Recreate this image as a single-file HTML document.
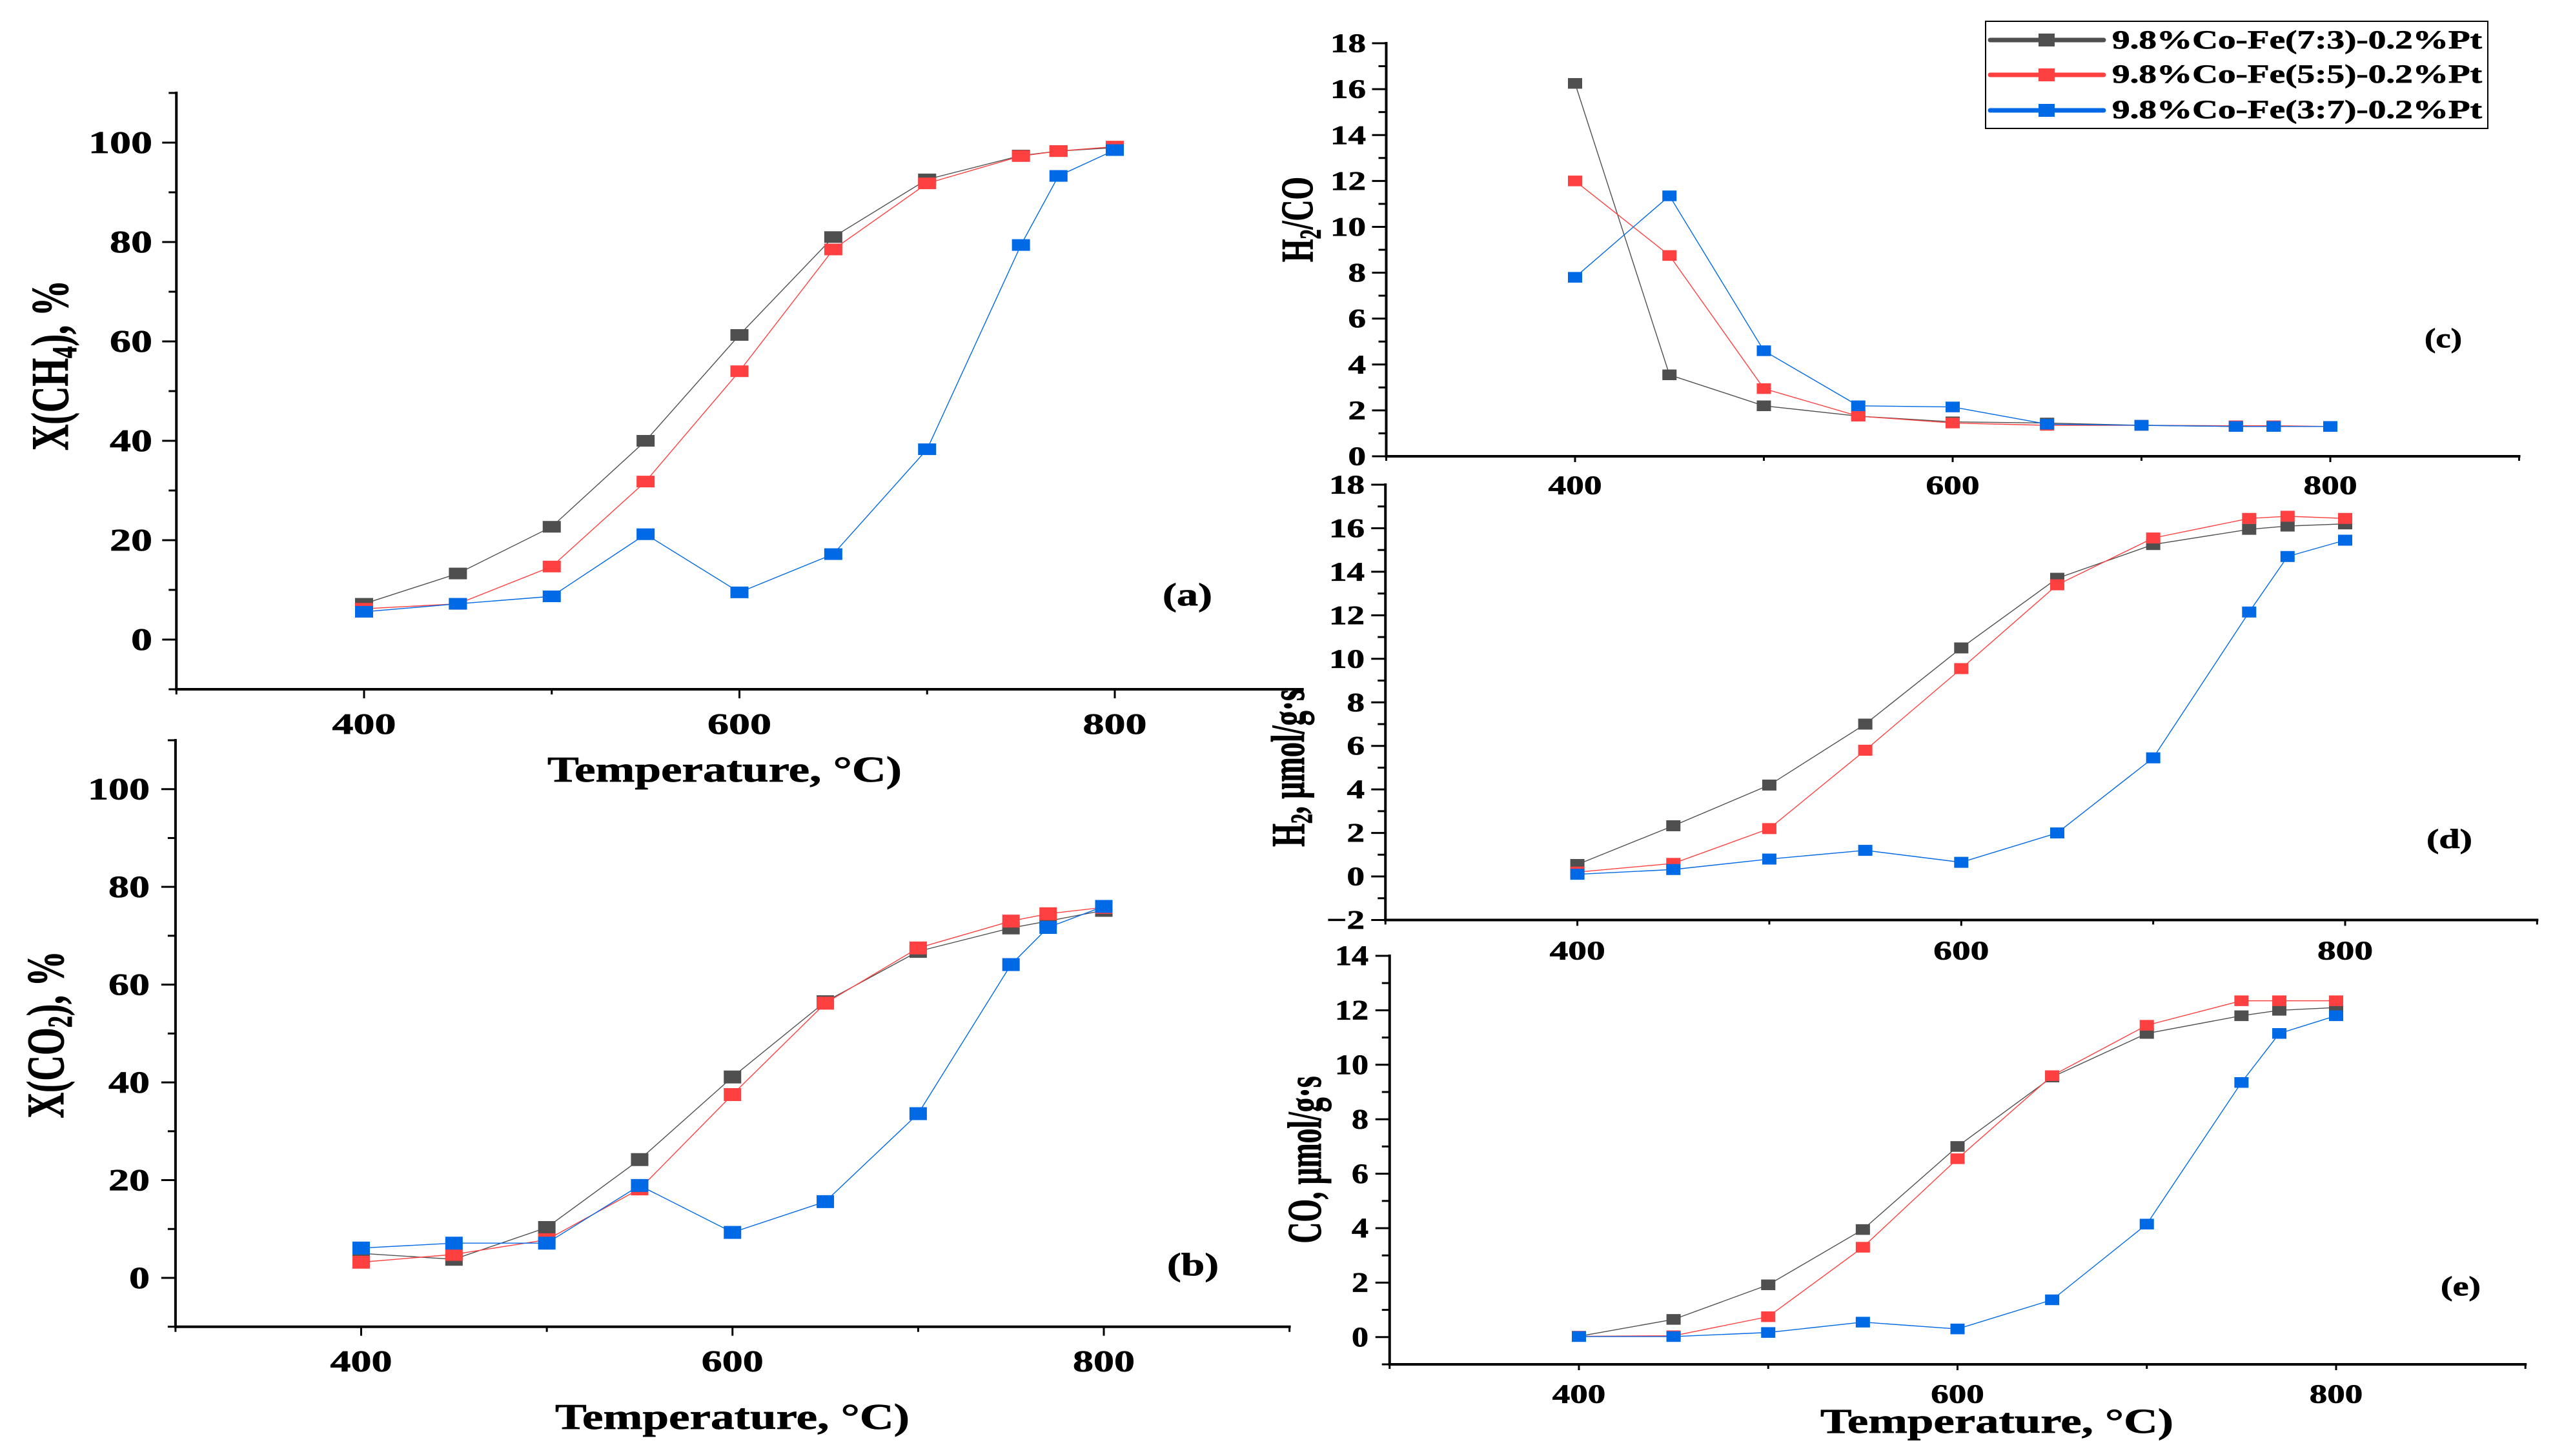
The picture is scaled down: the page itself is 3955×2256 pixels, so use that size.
<!DOCTYPE html>
<html lang="en">
<head>
<meta charset="utf-8">
<title>Catalyst performance versus temperature</title>
<style>
html,body{margin:0;padding:0;background:#fff;width:3955px;height:2256px;overflow:hidden}
svg{display:block}
text{font-family:"Liberation Serif",serif;font-weight:bold;fill:#000;stroke:#000;stroke-width:0.7}
</style>
</head>
<body>
<svg id="figure" xmlns="http://www.w3.org/2000/svg" width="3955" height="2256" viewBox="0 0 3955 2256">
  <rect x="0" y="0" width="3955" height="2256" fill="#fff"/>
  <g id="plots"></g>

  <text transform="translate(105 566) scale(1.45 1) rotate(-90)" x="0" y="0" font-size="56" text-anchor="middle" textLength="264" lengthAdjust="spacingAndGlyphs">X(CH<tspan font-size="37" dy="9">4</tspan><tspan dy="-9">), %</tspan></text>
  <text transform="translate(98 1603) scale(1.45 1) rotate(-90)" x="0" y="0" font-size="56" text-anchor="middle" textLength="259" lengthAdjust="spacingAndGlyphs">X(CO<tspan font-size="37" dy="9">2</tspan><tspan dy="-9">), %</tspan></text>
  <text transform="translate(2033 340) scale(1.55 1) rotate(-90)" x="0" y="0" font-size="45" text-anchor="middle" textLength="132" lengthAdjust="spacingAndGlyphs">H<tspan font-size="30" dy="8">2</tspan><tspan dy="-8">/CO</tspan></text>
  <text transform="translate(2020 1190) scale(1.55 1) rotate(-90)" x="0" y="0" font-size="47" text-anchor="middle" textLength="244" lengthAdjust="spacingAndGlyphs">H<tspan font-size="31" dy="8">2</tspan><tspan dy="-8">, μmol/g·s</tspan></text>
  <text transform="translate(2046 1797) scale(1.55 1) rotate(-90)" x="0" y="0" font-size="48" text-anchor="middle" textLength="259" lengthAdjust="spacingAndGlyphs">CO, μmol/g·s</text>

  <text x="848" y="1211" font-size="56" textLength="549" lengthAdjust="spacingAndGlyphs">Temperature, °C)</text>
  <text x="860" y="2214" font-size="56" textLength="549" lengthAdjust="spacingAndGlyphs">Temperature, °C)</text>
  <text x="2820" y="2220" font-size="54" textLength="547" lengthAdjust="spacingAndGlyphs">Temperature, °C)</text>

  <text x="1801" y="938" font-size="50" textLength="77" lengthAdjust="spacingAndGlyphs">(a)</text>
  <text x="1808" y="1976" font-size="50" textLength="80" lengthAdjust="spacingAndGlyphs">(b)</text>
  <text x="3756" y="538" font-size="42" textLength="58" lengthAdjust="spacingAndGlyphs">(c)</text>
  <text x="3759" y="1314" font-size="42" textLength="71" lengthAdjust="spacingAndGlyphs">(d)</text>
  <text x="3781" y="2007" font-size="42" textLength="62" lengthAdjust="spacingAndGlyphs">(e)</text>

  <g>
    <rect x="3076" y="33" width="778" height="166" fill="#fff" stroke="#000" stroke-width="2"/>
    <g>
      <line x1="3083" y1="62" x2="3259" y2="62" stroke="#4f4f4f" stroke-width="7" stroke-linecap="round"/>
      <rect x="3158" y="52" width="25" height="20" fill="#4f4f4f"/>
      <text x="3272" y="75" font-size="40" textLength="573" lengthAdjust="spacingAndGlyphs">9.8%Co-Fe(7:3)-0.2%Pt</text>
    </g>
    <g>
      <line x1="3083" y1="116" x2="3259" y2="116" stroke="#ff4040" stroke-width="7" stroke-linecap="round"/>
      <rect x="3158" y="106" width="25" height="20" fill="#ff4040"/>
      <text x="3272" y="128" font-size="40" textLength="573" lengthAdjust="spacingAndGlyphs">9.8%Co-Fe(5:5)-0.2%Pt</text>
    </g>
    <g>
      <line x1="3083" y1="171" x2="3259" y2="171" stroke="#0069e6" stroke-width="7" stroke-linecap="round"/>
      <rect x="3158" y="161" width="25" height="20" fill="#0069e6"/>
      <text x="3272" y="183" font-size="40" textLength="573" lengthAdjust="spacingAndGlyphs">9.8%Co-Fe(3:7)-0.2%Pt</text>
    </g>
  </g>
</svg>
<script>
// ---- Data ----
const temperatures = [400, 450, 500, 550, 600, 650, 700, 750, 770, 800];
const xTickValues = [300, 400, 500, 600, 700, 800, 900];
const xTickLabels = [400, 600, 800];

const ch4Series73 = [7.2, 13.3, 22.7, 40, 61.3, 81, 92.6, 97.4, 98.3, 99];
const ch4Series55 = [6.2, 7.2, 14.7, 31.8, 54, 78.5, 91.8, 97.3, 98.3, 99.2];
const ch4Series37 = [5.6, 7.2, 8.7, 21.2, 9.5, 17.2, 38.3, 79.4, 93.3, 98.5];
const ch4YLabels = [0, 20, 40, 60, 80, 100];

const co2Series73 = [5, 3.8, 10.3, 24.2, 41.1, 56.5, 66.8, 71.6, 73, 75.2];
const co2Series55 = [3.2, 4.8, 7.8, 18.2, 37.5, 56.2, 67.5, 73, 74.5, 75.8];
const co2Series37 = [6.1, 7.1, 7.1, 18.9, 9.3, 15.6, 33.6, 64.1, 71.7, 76];
const co2YLabels = [0, 20, 40, 60, 80, 100];

const ratioSeries73 = [16.25, 3.55, 2.2, 1.75, 1.5, 1.45, 1.35, 1.3, 1.3, 1.3];
const ratioSeries55 = [12, 8.75, 2.95, 1.75, 1.45, 1.35, 1.35, 1.33, 1.33, 1.3];
const ratioSeries37 = [7.8, 11.35, 4.6, 2.2, 2.15, 1.4, 1.35, 1.3, 1.3, 1.3];
const ratioYLabels = [0, 2, 4, 6, 8, 10, 12, 14, 16, 18];

const h2Series73 = [0.55, 2.33, 4.2, 7, 10.5, 13.7, 15.25, 15.95, 16.1, 16.2];
const h2Series55 = [0.2, 0.6, 2.2, 5.8, 9.55, 13.4, 15.55, 16.45, 16.55, 16.45];
const h2Series37 = [0.1, 0.32, 0.8, 1.2, 0.65, 2, 5.45, 12.15, 14.7, 15.45];
const h2YLabels = [-2, 0, 2, 4, 6, 8, 10, 12, 14, 16, 18];

const coSeries73 = [0.03, 0.65, 1.92, 3.95, 7, 9.55, 11.15, 11.8, 12, 12.1];
const coSeries55 = [0.03, 0.05, 0.75, 3.3, 6.55, 9.6, 11.45, 12.35, 12.35, 12.35];
const coSeries37 = [0.02, 0.02, 0.17, 0.55, 0.3, 1.37, 4.15, 9.35, 11.15, 11.8];
const coYLabels = [0, 2, 4, 6, 8, 10, 12, 14];

// ---- Layout ----
const NS = 'http://www.w3.org/2000/svg';
const root = document.getElementById('plots');
const seriesColors = ['#4f4f4f', '#ff4040', '#0069e6'];
const seriesNames = ['co-fe-7-3', 'co-fe-5-5', 'co-fe-3-7'];

function svgEl(tag, attrs, parent) {
  const el = document.createElementNS(NS, tag);
  for (const k in attrs) el.setAttribute(k, attrs[k]);
  parent.appendChild(el);
  return el;
}

function drawPanel(p) {
  const sx = v => p.x400 + (v - 400) * (p.x800 - p.x400) / 400;
  const sy = v => p.yAtMax + (p.yMax - v) * (p.yAtMin - p.yAtMax) / (p.yMax - p.yMin);

  const g = svgEl('g', {}, root);
  
  

  const xLeft = sx(300), xRight = sx(900);

  const yAxis = svgEl('line', {x1: xLeft, x2: xLeft, y1: sy(p.yMax) - 2, y2: sy(p.yMin) + 2, stroke: '#000', 'stroke-width': 4}, g);
  
  

  const xAxis = svgEl('line', {x1: xLeft - 2, x2: xRight + 2, y1: sy(p.yMin), y2: sy(p.yMin), stroke: '#000', 'stroke-width': 4}, g);
  
  

  xTickValues.forEach(v => {
    const major = xTickLabels.includes(v);
    const t = svgEl('line', {x1: sx(v), x2: sx(v), y1: sy(p.yMin), y2: sy(p.yMin) + (major ? p.xMajor : p.xMinor), stroke: '#000', 'stroke-width': 3}, g);
    
    
  });

  xTickLabels.forEach(v => {
    const s = p.xDigit / (0.5 * p.xFont);
    const t = svgEl('text', {'font-size': p.xFont, 'text-anchor': 'middle', transform: 'translate(' + sx(v) + ',' + (p.xLabelY + p.xFont * 0.33) + ') scale(' + s + ',1)'}, g);
    t.textContent = String(v);
    
    
  });

  for (let v = p.yMin; v <= p.yMax; v += p.minorStep) {
    const major = p.yLabels.includes(v);
    const t = svgEl('line', {x1: xLeft, x2: xLeft - (major ? 22 : 12), y1: sy(v), y2: sy(v), stroke: '#000', 'stroke-width': 3}, g);
    
    
  }

  p.yLabels.forEach(v => {
    const s = p.yDigit / (0.5 * p.yFont);
    const t = svgEl('text', {'font-size': p.yFont, 'text-anchor': 'end', transform: 'translate(' + p.yLabelEnd + ',' + (sy(v) + p.yFont * 0.33) + ') scale(' + s + ',1)'}, g);
    t.textContent = String(v).replace('-', '\u2212');
    
    
  });

  p.series.forEach((vals, i) => {
    const sg = svgEl('g', {}, g);
    
    

    const pts = temperatures.map((T, k) => sx(T) + ',' + sy(vals[k])).join(' ');
    const line = svgEl('polyline', {points: pts, fill: 'none', stroke: seriesColors[i], 'stroke-width': 1.4}, sg);
    
    

    temperatures.forEach((T, k) => {
      const m = svgEl('rect', {x: sx(T) - p.mw / 2, y: sy(vals[k]) - p.mh / 2, width: p.mw, height: p.mh, fill: seriesColors[i]}, sg);
      
      
    });
  });
}

drawPanel({id:'a', x400:564, x800:1727, yMin:-10, yMax:110, yAtMin:1068, yAtMax:144, minorStep:10,
  yLabels:ch4YLabels, series:[ch4Series73, ch4Series55, ch4Series37],
  xMajor:14, xMinor:8, xFont:46, xDigit:33, xLabelY:1122, yFont:49, yDigit:33, yLabelEnd:236, mw:28, mh:18});
drawPanel({id:'b', x400:559.5, x800:1710, yMin:-10, yMax:110, yAtMin:2055.7, yAtMax:1147, minorStep:10,
  yLabels:co2YLabels, series:[co2Series73, co2Series55, co2Series37],
  xMajor:14, xMinor:8, xFont:47, xDigit:32, xLabelY:2109, yFont:48, yDigit:32, yLabelEnd:232, mw:27, mh:20});
drawPanel({id:'c', x400:2440, x800:3610, yMin:0, yMax:18, yAtMin:707, yAtMax:67, minorStep:1,
  yLabels:ratioYLabels, series:[ratioSeries73, ratioSeries55, ratioSeries37],
  xMajor:9, xMinor:7, xFont:41, xDigit:27.7, xLabelY:752, yFont:41, yDigit:27.5, yLabelEnd:2116, mw:22, mh:16.5});
drawPanel({id:'d', x400:2443.6, x800:3633, yMin:-2, yMax:18, yAtMin:1425.5, yAtMax:751, minorStep:1,
  yLabels:h2YLabels, series:[h2Series73, h2Series55, h2Series37],
  xMajor:9, xMinor:7, xFont:41, xDigit:28.7, xLabelY:1473, yFont:41, yDigit:27.5, yLabelEnd:2114, mw:22, mh:17});
drawPanel({id:'e', x400:2446, x800:3619, yMin:-1, yMax:14, yAtMin:2114, yAtMax:1481, minorStep:1,
  yLabels:coYLabels, series:[coSeries73, coSeries55, coSeries37],
  xMajor:9, xMinor:7, xFont:41, xDigit:27.5, xLabelY:2160, yFont:43, yDigit:26, yLabelEnd:2120, mw:22, mh:16.5});
</script>
</body>
</html>
